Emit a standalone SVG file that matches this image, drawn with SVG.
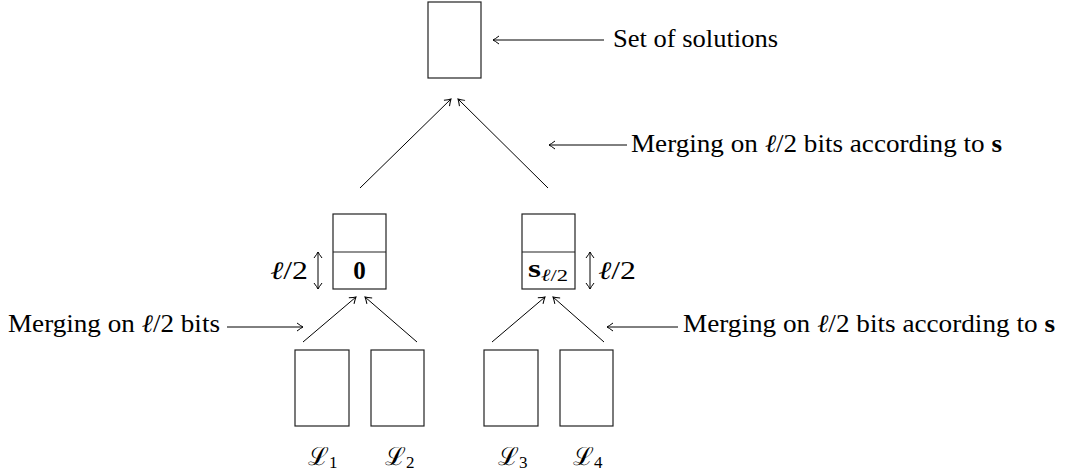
<svg xmlns="http://www.w3.org/2000/svg" width="1065" height="472" viewBox="0 0 1065 472">
<style>
.box{fill:#fff;stroke:#222;stroke-width:1.2}
.ln{stroke:#000;stroke-width:1;fill:none}
.t{font-family:"Liberation Serif","DejaVu Serif",serif;font-size:25px;fill:#000}
.b{font-weight:bold}
.i{font-style:italic}
</style>
<defs>
<marker id="ah" markerUnits="userSpaceOnUse" markerWidth="12" markerHeight="12" viewBox="-8 -6 10 12" refX="0" refY="0" orient="auto-start-reverse">
<path d="M-6,-4 Q-2,-1 0,0 Q-2,1 -6,4" fill="none" stroke="#000" stroke-width="1"/>
</marker>
</defs>
<rect width="1065" height="472" fill="#fff"/>
<g id="connectors">
<line class="ln" x1="604" y1="40" x2="493" y2="40" marker-end="url(#ah)"/>
<line class="ln" x1="627" y1="145" x2="549" y2="145" marker-end="url(#ah)"/>
<line class="ln" x1="360" y1="188" x2="451" y2="99" marker-end="url(#ah)"/>
<line class="ln" x1="548" y1="188" x2="458" y2="99" marker-end="url(#ah)"/>
<line class="ln" x1="303" y1="342" x2="356" y2="297" marker-end="url(#ah)"/>
<line class="ln" x1="417" y1="342" x2="365" y2="297" marker-end="url(#ah)"/>
<line class="ln" x1="492" y1="342" x2="545" y2="297" marker-end="url(#ah)"/>
<line class="ln" x1="604" y1="342" x2="553" y2="297" marker-end="url(#ah)"/>
<line class="ln" x1="227" y1="327" x2="303" y2="327" marker-end="url(#ah)"/>
<line class="ln" x1="678" y1="327" x2="607" y2="327" marker-end="url(#ah)"/>
<line class="ln" x1="318" y1="252" x2="318" y2="289" marker-start="url(#ah)" marker-end="url(#ah)"/>
<line class="ln" x1="590" y1="252" x2="590" y2="289" marker-start="url(#ah)" marker-end="url(#ah)"/>
</g>
<g id="top">
<rect class="box" x="428" y="2" width="53" height="76"/>
</g>
<g id="label-solutions">
<text class="t" x="613" y="47" textLength="165" lengthAdjust="spacingAndGlyphs">Set of solutions</text>
</g>
<g id="label-merge-top">
<text class="t" x="631" y="152" textLength="371" lengthAdjust="spacingAndGlyphs">Merging on <tspan class="i">ℓ</tspan>/2 bits according to <tspan class="b">s</tspan></text>
</g>
<g id="mid-left">
<rect class="box" x="333" y="214" width="53" height="75"/>
<line class="box" x1="333" y1="252" x2="386" y2="252"/>
<text class="t b" x="359.5" y="279" text-anchor="middle">0</text>
<text class="t" x="270" y="279" textLength="38" lengthAdjust="spacingAndGlyphs"><tspan class="i">ℓ</tspan>/2</text>
</g>
<g id="mid-right">
<rect class="box" x="522" y="214" width="53" height="75"/>
<line class="box" x1="522" y1="252" x2="575" y2="252"/>
<text class="t" x="528" y="277" textLength="40" lengthAdjust="spacingAndGlyphs"><tspan class="b">s</tspan><tspan font-size="17" dy="4"><tspan class="i">ℓ</tspan>/2</tspan></text>
<text class="t" x="598" y="279" textLength="38" lengthAdjust="spacingAndGlyphs"><tspan class="i">ℓ</tspan>/2</text>
</g>
<g id="label-merge-left">
<text class="t" x="8" y="332" textLength="212" lengthAdjust="spacingAndGlyphs">Merging on <tspan class="i">ℓ</tspan>/2 bits</text>
</g>
<g id="label-merge-right">
<text class="t" x="683" y="332" textLength="372" lengthAdjust="spacingAndGlyphs">Merging on <tspan class="i">ℓ</tspan>/2 bits according to <tspan class="b">s</tspan></text>
</g>
<g id="L1">
<rect class="box" x="295" y="350" width="54" height="76"/>
<text class="t" x="308" y="465">ℒ<tspan font-size="17" dy="3">1</tspan></text>
</g>
<g id="L2">
<rect class="box" x="371" y="350" width="53" height="76"/>
<text class="t" x="385" y="465">ℒ<tspan font-size="17" dy="3">2</tspan></text>
</g>
<g id="L3">
<rect class="box" x="484" y="350" width="54" height="76"/>
<text class="t" x="498" y="465">ℒ<tspan font-size="17" dy="3">3</tspan></text>
</g>
<g id="L4">
<rect class="box" x="560" y="350" width="53" height="76"/>
<text class="t" x="573" y="465">ℒ<tspan font-size="17" dy="3">4</tspan></text>
</g>
</svg>
